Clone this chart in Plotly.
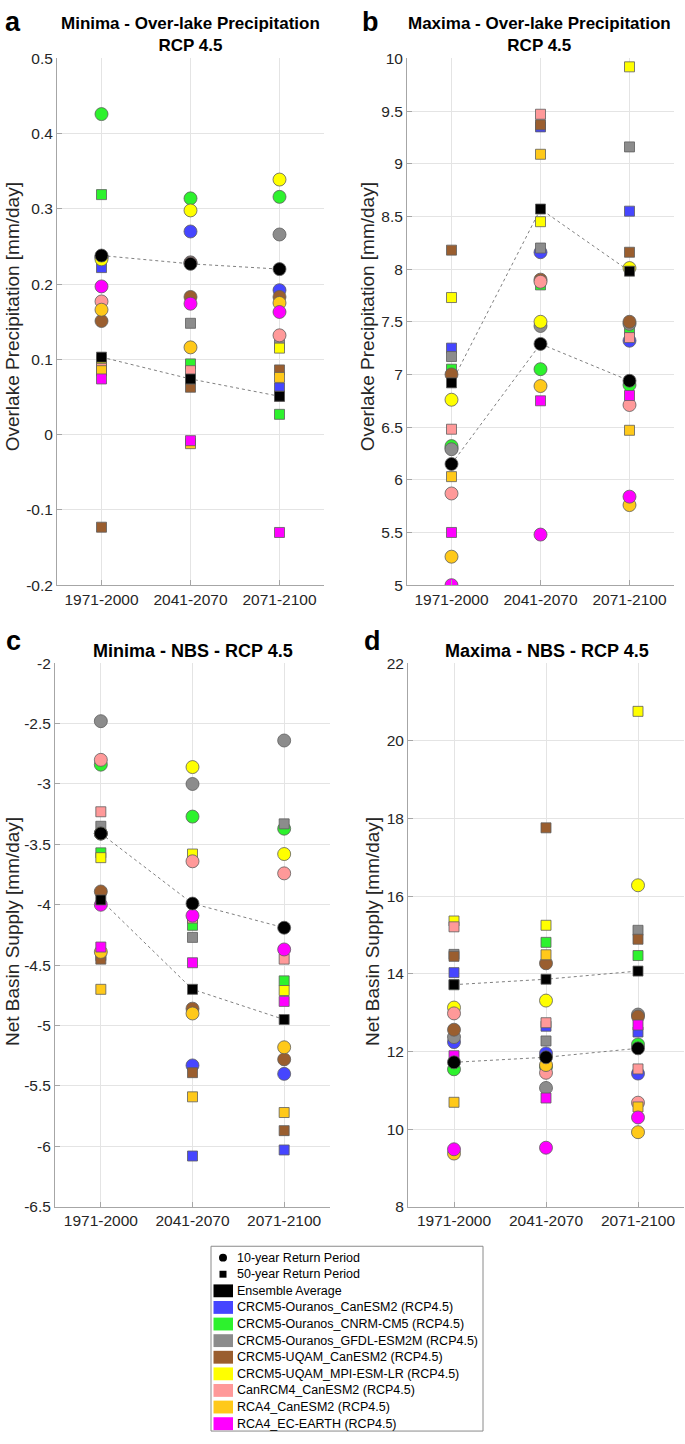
import plotly.graph_objects as go

W, H = 685, 1444
def fx(px): return px / W
def fy(py): return 1 - py / H

# ---------------- data ----------------
PERIODS = ["1971-2000", "2041-2070", "2071-2100"]
XPOS = [1, 2, 3]

MODELS = ["CRCM5-Ouranos_CanESM2 (RCP4.5)", "CRCM5-Ouranos_CNRM-CM5 (RCP4.5)",
          "CRCM5-Ouranos_GFDL-ESM2M (RCP4.5)", "CRCM5-UQAM_CanESM2 (RCP4.5)",
          "CRCM5-UQAM_MPI-ESM-LR (RCP4.5)", "CanRCM4_CanESM2 (RCP4.5)",
          "RCA4_CanESM2 (RCP4.5)", "RCA4_EC-EARTH (RCP4.5)"]
COLORS = ["#4646ff", "#2df22d", "#8c8c8c", "#9a5e2f", "#ffff00", "#ff9999", "#ffc91a", "#ff00ff"]

# panel a: Minima - over-lake precipitation (10-yr circles, 50-yr squares), per model
A10 = [[0.236, 0.270, 0.192], [0.426, 0.314, 0.316], [0.236, 0.229, 0.266], [0.151, 0.183, 0.183],
       [0.233, 0.298, 0.339], [0.177, 0.228, 0.132], [0.166, 0.116, 0.175], [0.197, 0.174, 0.163]]
A50 = [[0.222, 0.074, 0.062], [0.319, 0.094, 0.027], [0.100, 0.148, 0.120], [-0.123, 0.063, 0.086],
       [0.097, 0.074, 0.115], [0.088, 0.085, 0.051], [0.085, -0.012, 0.076], [0.074, -0.008, -0.130]]
A10_ENS = [0.238, 0.227, 0.220]
A50_ENS = [0.103, 0.074, 0.051]

# panel b: Maxima - over-lake precipitation
B10 = [[6.30, 8.16, 7.32], [6.32, 7.05, 6.90], [6.29, 7.46, 7.48], [7.00, 7.90, 7.50],
       [6.76, 7.50, 8.01], [5.87, 7.88, 6.71], [5.27, 6.89, 5.76], [5.00, 5.48, 5.84]]
B50 = [[7.25, 9.35, 8.55], [7.05, 7.85, 7.43], [7.17, 8.20, 9.16], [8.18, 9.37, 8.16],
       [7.73, 8.45, 9.92], [6.48, 9.47, 7.35], [6.03, 9.09, 6.47], [5.50, 6.75, 6.80]]
B10_ENS = [6.15, 7.29, 6.94]
B50_ENS = [6.92, 8.57, 7.98]

# panel c: Minima - NBS
C10 = [[-3.41, -5.33, -5.40], [-2.84, -3.27, -3.37], [-2.48, -3.00, -2.64], [-3.89, -4.86, -5.28],
       [-3.41, -2.86, -3.58], [-2.80, -3.64, -3.74], [-4.39, -4.90, -5.18], [-4.00, -4.09, -4.37]]
C50 = [[-4.42, -6.08, -6.03], [-3.57, -4.17, -4.63], [-3.35, -4.27, -3.33], [-4.45, -5.39, -5.87],
       [-3.61, -3.58, -4.71], [-3.23, -4.11, -4.45], [-4.70, -5.59, -5.72], [-4.35, -4.48, -4.80]]
C10_ENS = [-3.41, -3.99, -4.19]
C50_ENS = [-3.96, -4.70, -4.95]

# panel d: Maxima - NBS
D10 = [[12.24, 11.95, 11.43], [11.54, 11.60, 12.18], [12.37, 11.06, 12.95], [12.56, 14.27, 12.90],
       [13.13, 13.31, 16.28], [12.98, 11.45, 10.68], [9.37, 11.65, 9.92], [9.48, 9.52, 10.30]]
D50 = [[14.03, 12.65, 12.50], [13.72, 14.81, 14.47], [14.50, 12.27, 15.12], [14.45, 17.76, 14.89],
       [15.36, 15.25, 20.76], [15.21, 12.74, 11.55], [10.69, 14.49, 10.57], [11.89, 10.80, 12.68]]
D10_ENS = [11.72, 11.85, 12.08]
D50_ENS = [13.72, 13.86, 14.07]

A_TICKS = [-0.2, -0.1, 0, 0.1, 0.2, 0.3, 0.4, 0.5]
A_TICKTEXT = ["-0.2", "-0.1", "0", "0.1", "0.2", "0.3", "0.4", "0.5"]
B_TICKS = [5, 5.5, 6, 6.5, 7, 7.5, 8, 8.5, 9, 9.5, 10]
B_TICKTEXT = ["5", "5.5", "6", "6.5", "7", "7.5", "8", "8.5", "9", "9.5", "10"]
C_TICKS = [-6.5, -6, -5.5, -5, -4.5, -4, -3.5, -3, -2.5, -2]
C_TICKTEXT = ["-6.5", "-6", "-5.5", "-5", "-4.5", "-4", "-3.5", "-3", "-2.5", "-2"]
D_TICKS = [8, 10, 12, 14, 16, 18, 20, 22]
D_TICKTEXT = ["8", "10", "12", "14", "16", "18", "20", "22"]

LEGEND_HEAD = ["10-year Return Period", "50-year Return Period", "Ensemble Average"]

# ---------------- styling ----------------
FONT = "Liberation Sans, Arial, Helvetica, sans-serif"
EDGE = "#5e5e5e"
AXC = "#a6a6a6"
GRID = "#e4e4e4"
TXT = "#262626"
CS, SS = 13, 10

panels = [
    dict(n="", dom=(57, 324, 50, 583), yr=(-0.2, 0.5), tv=A_TICKS, tt=A_TICKTEXT,
         c=A10, s=A50, ce=A10_ENS, se=A50_ENS),
    dict(n="2", dom=(407, 674, 50, 583), yr=(5, 10), tv=B_TICKS, tt=B_TICKTEXT,
         c=B10, s=B50, ce=B10_ENS, se=B50_ENS),
    dict(n="3", dom=(55, 330, 662, 1212), yr=(-6.5, -2), tv=C_TICKS, tt=C_TICKTEXT,
         c=C10, s=C50, ce=C10_ENS, se=C50_ENS),
    dict(n="4", dom=(408, 684, 662, 1212), yr=(8, 22), tv=D_TICKS, tt=D_TICKTEXT,
         c=D10, s=D50, ce=D10_ENS, se=D50_ENS),
]

fig = go.Figure()
layout = {}
for p in panels:
    xa, ya = "x" + p["n"], "y" + p["n"]
    # dotted ensemble lines
    for ens in (p["ce"], p["se"]):
        fig.add_trace(go.Scatter(x=XPOS, y=ens, mode="lines", xaxis=xa, yaxis=ya,
                                 line=dict(color="#808080", width=1, dash="dot"),
                                 showlegend=False, hoverinfo="skip"))
    for i, col in enumerate(COLORS):
        fig.add_trace(go.Scatter(x=XPOS, y=p["c"][i], mode="markers", xaxis=xa, yaxis=ya,
                                 marker=dict(symbol="circle", size=CS, color=col,
                                             line=dict(color=EDGE, width=0.8)),
                                 name=MODELS[i], showlegend=False))
        fig.add_trace(go.Scatter(x=XPOS, y=p["s"][i], mode="markers", xaxis=xa, yaxis=ya,
                                 marker=dict(symbol="square", size=SS, color=col,
                                             line=dict(color=EDGE, width=0.8)),
                                 name=MODELS[i], showlegend=False))
    fig.add_trace(go.Scatter(x=XPOS, y=p["ce"], mode="markers", xaxis=xa, yaxis=ya,
                             marker=dict(symbol="circle", size=CS, color="black",
                                         line=dict(color=EDGE, width=0.8)),
                             showlegend=False))
    fig.add_trace(go.Scatter(x=XPOS, y=p["se"], mode="markers", xaxis=xa, yaxis=ya,
                             marker=dict(symbol="square", size=SS, color="black",
                                         line=dict(color=EDGE, width=0.8)),
                             showlegend=False))
    l, r, t, b = p["dom"]
    common = dict(showline=True, linecolor=AXC, linewidth=1, mirror=False,
                  ticks="inside", ticklen=5, tickcolor=AXC, showgrid=True, gridcolor=GRID,
                  gridwidth=1, zeroline=False, tickfont=dict(family=FONT, size=15.5, color=TXT))
    layout["xaxis" + p["n"]] = dict(domain=[fx(l), fx(r)], range=[0.5, 3.5], tickvals=XPOS,
                                    ticktext=PERIODS, anchor=ya, fixedrange=True, **common)
    layout["yaxis" + p["n"]] = dict(domain=[fy(b), fy(t)], range=list(p["yr"]), tickvals=p["tv"],
                                    ticktext=p["tt"], anchor=xa, fixedrange=True, **common)

ann = []
def text(px, py, s, size, bold=False, xanchor="center", angle=0, color="black"):
    ann.append(dict(x=fx(px), y=fy(py), xref="paper", yref="paper", text=("<b>%s</b>" % s) if bold else s,
                    showarrow=False, xanchor=xanchor, yanchor="middle", textangle=angle,
                    font=dict(family=FONT, size=size, color=color)))

# panel titles
text(190, 26, "Minima - Over-lake Precipitation<br>RCP 4.5", 17, bold=True)
text(539, 26, "Maxima - Over-lake Precipitation<br>RCP 4.5", 17, bold=True)
text(193, 650, "Minima - NBS - RCP 4.5", 18, bold=True)
text(547, 650, "Maxima - NBS - RCP 4.5", 18, bold=True)
# panel letters
text(13, 13, "a", 27, bold=True)
text(370, 13, "b", 27, bold=True)
text(13, 640, "c", 27, bold=True)
text(372, 640, "d", 27, bold=True)
# y titles
text(12, 312, "Overlake Precipitation [mm/day]", 19, angle=-90, color=TXT)
text(367, 312, "Overlake Precipitation [mm/day]", 19, angle=-90, color=TXT)
text(12, 934, "Net Basin Supply [mm/day]", 19, angle=-90, color=TXT)
text(372, 934, "Net Basin Supply [mm/day]", 19, angle=-90, color=TXT)

# ---------------- legend (drawn manually) ----------------
shapes = []
LX0, LX1, LY0, LY1 = 211, 483, 1252, 1439
shapes.append(dict(type="rect", xref="paper", yref="paper", x0=fx(LX0), x1=fx(LX1),
                   y0=fy(LY1), y1=fy(LY0), line=dict(color="#8a8a8a", width=1), fillcolor="white",
                   layer="below"))
ROW0, DROW = 1263.5, 16.8
labels = LEGEND_HEAD + MODELS
for k, lab in enumerate(labels):
    yc = ROW0 + k * DROW
    text(235, yc, lab, 12.5, xanchor="left")
    if k == 0:
        shapes.append(dict(type="circle", xref="paper", yref="paper", x0=fx(219), x1=fx(227),
                           y0=fy(yc + 4), y1=fy(yc - 4), fillcolor="black", line=dict(width=0)))
    elif k == 1:
        shapes.append(dict(type="rect", xref="paper", yref="paper", x0=fx(219.5), x1=fx(226.5),
                           y0=fy(yc + 3.5), y1=fy(yc - 3.5), fillcolor="black", line=dict(width=0)))
    else:
        col = "black" if k == 2 else COLORS[k - 3]
        shapes.append(dict(type="rect", xref="paper", yref="paper", x0=fx(213.5), x1=fx(233),
                           y0=fy(yc + 6.5), y1=fy(yc - 6.5), fillcolor=col, line=dict(width=0)))

fig.update_layout(width=W, height=H, margin=dict(l=0, r=0, t=0, b=0),
                  paper_bgcolor="white", plot_bgcolor="white", showlegend=False,
                  annotations=ann, shapes=shapes, font=dict(family=FONT, color=TXT), **layout)
fig.write_html("out.html", config={"displayModeBar": False},
               post_script="document.body.style.margin='0px';document.body.style.overflow='hidden';")
